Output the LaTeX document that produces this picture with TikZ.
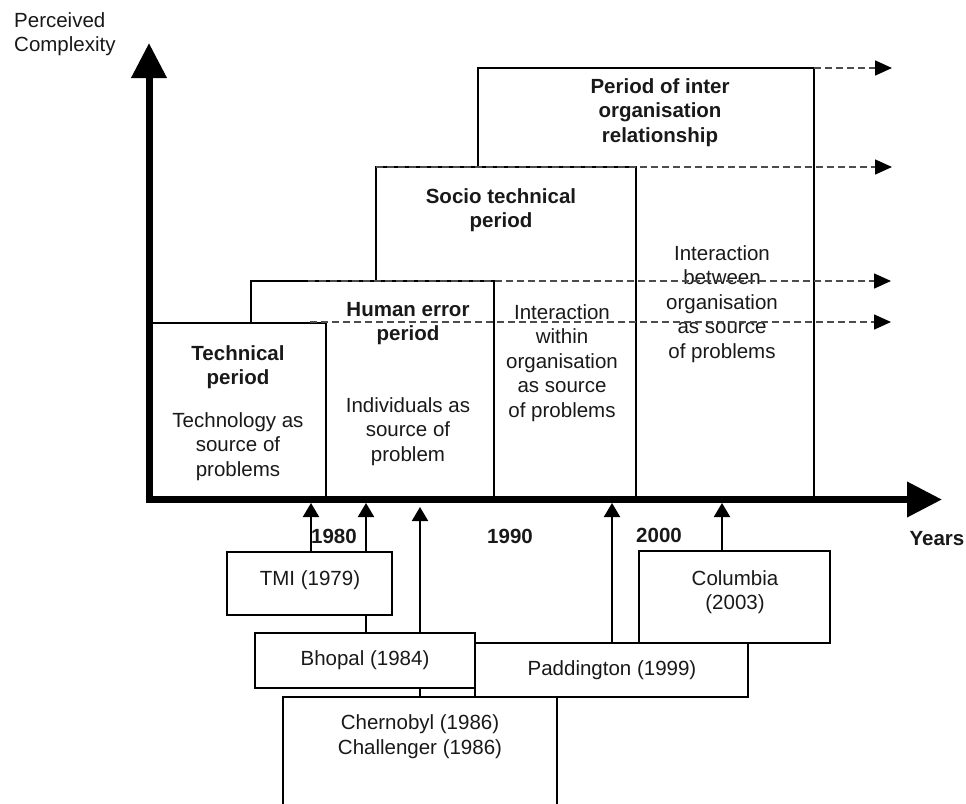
\documentclass[tikz,border=0pt]{standalone}
\usepackage{fontspec}
\setmainfont{Liberation Sans}
\usetikzlibrary{arrows.meta,backgrounds}

\begin{document}
\begin{tikzpicture}[x=1pt,y=-1pt,
  every node/.style={font=\fontsize{20.5}{24.6}\selectfont, inner sep=0pt, text=black!90},
  period/.style={draw=black, line width=1.8pt, fill=white, anchor=south west, inner sep=0pt, outer sep=0pt},
  event/.style={draw=black, line width=1.8pt, fill=white, inner sep=0pt, outer sep=0pt},
  title/.style={font=\fontsize{20.5}{24.6}\selectfont\bfseries, align=center, anchor=base},
  desc/.style={align=center, anchor=base},
  yearlab/.style={font=\fontsize{20.5}{24.6}\selectfont\bfseries, anchor=base},
  axis/.style={line width=7pt, line cap=butt, -{Triangle[length=35pt,width=34pt]}},
  hit/.style={line width=2pt, -{Triangle[length=14pt,width=16pt]}},
  trend/.style={line width=1.5pt, draw=black!70, dash pattern=on 7pt off 4pt,
                -{Triangle[length=17pt,width=15pt,color=black,fill=black]}},
]
\useasboundingbox (0,0) rectangle (966,803);
\clip (0,0) rectangle (966,803);

% periods, largest first so the later ones sit in front
\node[period, minimum width=336pt, minimum height=429pt] (inter) at (478,497) {};
\node[period, minimum width=260pt, minimum height=330pt] (socio) at (376,497) {};
\node[period, minimum width=243pt, minimum height=216pt] (human) at (251,497) {};
\node[period, minimum width=177pt, minimum height=174pt] (tech)  at (149,497) {};

% accident boxes below the time axis
\node[event, minimum width=273pt, minimum height=54pt] (padd) at (611.5,670) {};
\node[event, minimum width=274pt, minimum height=130pt, anchor=north] (chern) at (420,697) {};
\node[event, minimum width=220pt, minimum height=55pt] (bhopal) at (365,660.5) {};
\node[event, minimum width=165pt, minimum height=63pt] (tmi) at (309.5,583.5) {};
\node[event, minimum width=191pt, minimum height=92pt] (columbia) at (734.5,597) {};

% period texts (a multi-line node sits on the baseline of its last line)
\node[title] (techT) at (238,384.6) {Technical\\period};
\node[desc] (techD) at (238,476.2) {Technology as\\source of\\problems};
\node[title] (humanT) at (408,340.6) {Human error\\period};
\node[desc] (humanD) at (408,461.2) {Individuals as\\source of\\problem};
\node[title] (socioT) at (501,227.6) {Socio technical\\period};
\node[desc] (socioD) at (562,417.4) {Interaction\\within\\organisation\\as source\\of problems};
\node[title] (interT) at (660,142.2) {Period of inter\\organisation\\relationship};
\node[desc] (interD) at (722,358.4) {Interaction\\between\\organisation\\as source\\of problems};

% accident texts
\node[anchor=base] (tmiText) at (310,585) {TMI (1979)};
\node[anchor=base] (bhopalText) at (365,665) {Bhopal (1984)};
\node[anchor=base] (paddText) at (612,675) {Paddington (1999)};
\node[anchor=base, align=center] (chernText) at (420,754) {Chernobyl (1986)\\Challenger (1986)};
\node[anchor=base, align=center] (columbiaText) at (735,609.6) {Columbia\\(2003)};

% axis labels
\node[anchor=base west, align=left] (ylabel) at (14,51.6) {Perceived\\Complexity};
\node[yearlab] (y1980) at (334,543) {1980};
\node[yearlab] (y1990) at (510,543) {1990};
\node[yearlab] (y2000) at (659,542) {2000};
\node[yearlab] (years) at (937,545) {Years};

% axes
\coordinate (xstart) at (145.5,499.5);
\coordinate (xtip) at (942,499.5);
\coordinate (ystart) at (149,503);
\coordinate (ytip) at (149,43);
\draw[axis] (xstart) -- (xtip);
\draw[axis] (ystart) -- (ytip);

% dashed trends continuing to the right
\coordinate (e1) at (892,68);
\coordinate (e2) at (892,167);
\coordinate (s3) at (308,281);
\coordinate (e3) at (891,281);
\coordinate (s4) at (310,322);
\coordinate (e4) at (891,322);
\draw[trend] (inter.north east) -- (e1);
\draw[trend] (socio.north west) -- (e2);
\draw[trend] (s3) -- (e3);
\draw[trend] (s4) -- (e4);

% accidents pointing at the time axis, behind the boxes
\begin{scope}[on background layer]
  \coordinate (a1) at (311,503);
  \coordinate (a2) at (366,503);
  \coordinate (a3) at (420,507);
  \coordinate (a4) at (612,503);
  \coordinate (a5) at (722,503);
  \draw[hit] (tmi.north -| a1) -- (a1);
  \draw[hit] (bhopal.north -| a2) -- (a2);
  \draw[hit] (chern.north -| a3) -- (a3);
  \draw[hit] (padd.north -| a4) -- (a4);
  \draw[hit] (columbia.north -| a5) -- (a5);
\end{scope}
\end{tikzpicture}
\end{document}
